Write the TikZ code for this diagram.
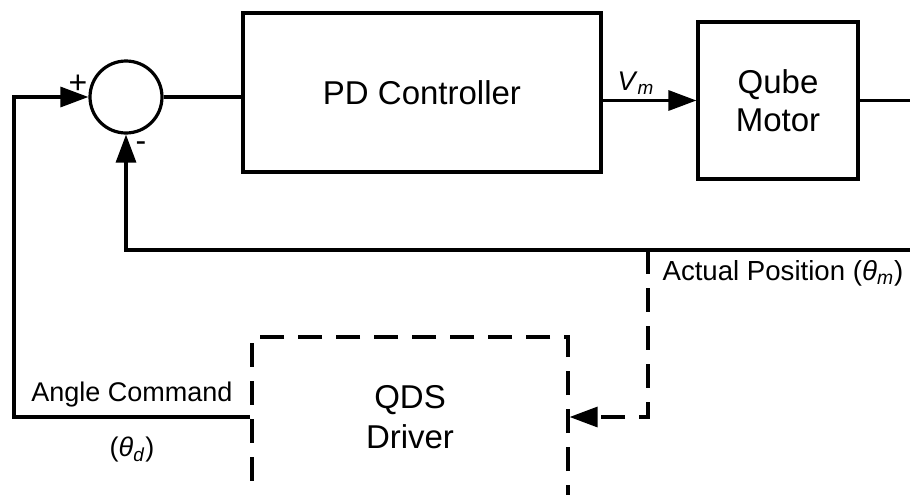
\documentclass[tikz,border=0pt]{standalone}
\usepackage{fontspec}
\setmainfont{Liberation Sans}
\usetikzlibrary{arrows.meta}

\begin{document}
\begin{tikzpicture}[x=0.5pt,y=-0.5pt,line width=1.6pt,
  blk/.style={draw,rectangle,line width=1.6pt,align=center,font=\fontsize{16.5}{19}\selectfont},
  dblk/.style={blk,dash pattern=on 12pt off 7pt},
  sumnode/.style={draw,circle,minimum size=36pt,inner sep=0pt},
  lbl/.style={inner sep=0pt,font=\fontsize{13.5}{16}\selectfont},
  sgn/.style={inner sep=0pt,font=\fontsize{16}{18}\selectfont},
  arr/.style={-{Triangle[length=14pt,width=10pt]}}]
  \useasboundingbox (0,0) rectangle (910,494);
  % blocks
  \node[sumnode] (sum) at (126,97) {};
  \node[blk,minimum width=179pt,minimum height=79.5pt] (pd) at (422,92.5) {PD Controller};
  \node[blk,minimum width=80pt,minimum height=78.5pt] (qube) at (778,100.5) {Qube\\Motor};
  \node[dblk,minimum width=158pt,minimum height=80pt,font=\fontsize{16.5}{20}\selectfont] (qds) at (410,417) {QDS\\Driver};
  % free ends
  \coordinate (cmd) at (14,416);
  \coordinate (out) at (910,100.5);
  \coordinate (fb) at (910,250);
  \coordinate (tap) at (648,250);
  % connectors
  \draw[arr] (qds.west) -- (cmd |- qds.west) |- (sum.west);
  \draw (sum.east) -- (sum.east -| pd.west);
  \draw[arr] (pd.east |- qube.west) -- (qube.west);
  \draw (qube.east) -- (out);
  \draw[arr] (fb) -| (sum.south);
  \draw[arr,dash pattern=on 12pt off 7pt] (tap) |- (qds.east);
  % labels
  \node[sgn] (plus) at (78,84) {+};
  \node[sgn] (minus) at (141,147) {-};
  \node[lbl] (vm) at (636,83) {\textit{V}\textsubscript{\textit{m}}};
  \node[lbl,anchor=west,font=\fontsize{13.8}{16}\selectfont] (actpos) at (661,273) {Actual Position (\textit{θ}\textsubscript{\textit{m}})};
  \node[lbl] (angcmd) at (132,395) {Angle Command};
  \node[lbl] (thd) at (132,450) {(\textit{θ}\textsubscript{\textit{d}})};
\end{tikzpicture}
\end{document}
